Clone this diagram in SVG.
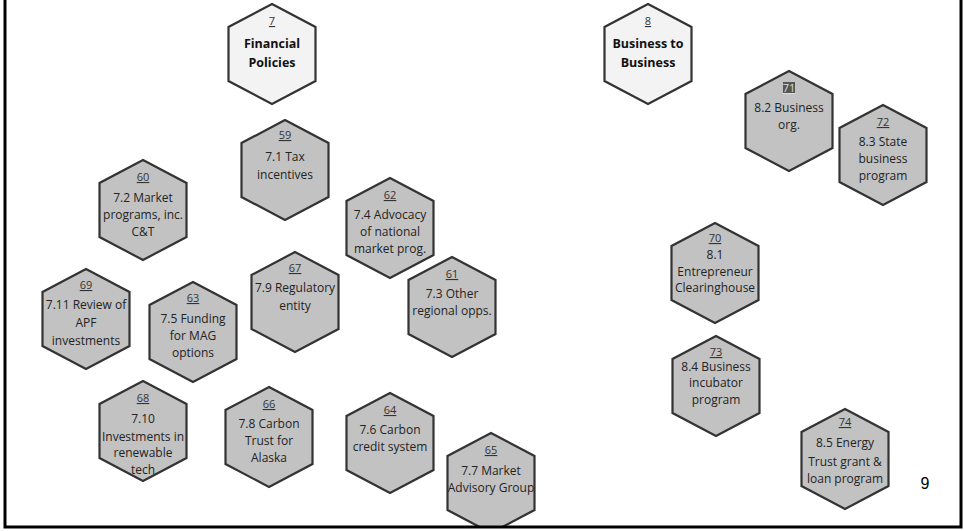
<svg xmlns="http://www.w3.org/2000/svg" width="964" height="531" viewBox="0 0 964 531">
<style>
.hx{fill:#c2c2c2;stroke:#333;stroke-width:2.2}
.hl{fill:#f3f3f3;stroke:#333;stroke-width:2.2}
.n{font-family:"Open Sans","Liberation Sans",sans-serif;font-size:11px;fill:#333;text-anchor:middle;text-decoration:underline}
.t{font-family:"Open Sans","Liberation Sans",sans-serif;font-size:12px;fill:#222;text-anchor:middle}
.b{font-family:"Open Sans","Liberation Sans",sans-serif;font-size:12.5px;font-weight:bold;fill:#111;text-anchor:middle}
</style>
<defs>
<polygon id="hex" points="0,-50 43.5,-27 43.5,27 0,50 -43.5,27 -43.5,-27"/>
</defs>
<rect width="964" height="531" fill="#fff"/>
<g id="n7" transform="translate(272,54)"><use href="#hex" class="hl"/><text class="n" y="-29">7</text><text class="b" y="-6">Financial</text><text class="b" y="13">Policies</text></g>
<g id="n8" transform="translate(648,54)"><use href="#hex" class="hl"/><text class="n" y="-29">8</text><text class="b" y="-6">Business to</text><text class="b" y="13">Business</text></g>
<g id="n71" transform="translate(789,121)"><use href="#hex" class="hx"/><rect x="-6" y="-39" width="12" height="12" fill="#555"/><text class="n" y="-29" style="fill:#ddd">71</text><text class="t" y="-9">8.2 Business</text><text class="t" y="8">org.</text></g>
<g id="n72" transform="translate(883,155)"><use href="#hex" class="hx"/><text class="n" y="-29">72</text><text class="t" y="-9">8.3 State</text><text class="t" y="8">business</text><text class="t" y="25">program</text></g>
<g id="n59" transform="translate(285,170)"><use href="#hex" class="hx"/><text class="n" y="-31">59</text><text class="t" y="-9">7.1 Tax</text><text class="t" y="9">incentives</text></g>
<g id="n60" transform="translate(143,210)"><use href="#hex" class="hx"/><text class="n" y="-29">60</text><text class="t" y="-8">7.2 Market</text><text class="t" y="9">programs, inc.</text><text class="t" y="26">C&amp;T</text></g>
<g id="n62" transform="translate(390,228)"><use href="#hex" class="hx"/><text class="n" y="-29">62</text><text class="t" y="-9">7.4 Advocacy</text><text class="t" y="8">of national</text><text class="t" y="25">market prog.</text></g>
<g id="n61" transform="translate(452,307)"><use href="#hex" class="hx"/><text class="n" y="-29">61</text><text class="t" y="-9">7.3 Other</text><text class="t" y="8">regional opps.</text></g>
<g id="n67" transform="translate(295,302)"><use href="#hex" class="hx"/><text class="n" y="-30">67</text><text class="t" y="-10">7.9 Regulatory</text><text class="t" y="8">entity</text></g>
<g id="n69" transform="translate(86,319)"><use href="#hex" class="hx"/><text class="n" y="-30">69</text><text class="t" y="-10">7.11 Review of</text><text class="t" y="8">APF</text><text class="t" y="26">investments</text></g>
<g id="n63" transform="translate(193,332)"><use href="#hex" class="hx"/><text class="n" y="-30">63</text><text class="t" y="-9">7.5 Funding</text><text class="t" y="8">for MAG</text><text class="t" y="25">options</text></g>
<g id="n70" transform="translate(715,273)"><use href="#hex" class="hx"/><text class="n" y="-31">70</text><text class="t" y="-14">8.1</text><text class="t" y="3">Entrepreneur</text><text class="t" y="19">Clearinghouse</text></g>
<g id="n73" transform="translate(716,386)"><use href="#hex" class="hx"/><text class="n" y="-30">73</text><text class="t" y="-15">8.4 Business</text><text class="t" y="1">incubator</text><text class="t" y="18">program</text></g>
<g id="n68" transform="translate(143,431)"><use href="#hex" class="hx"/><text class="n" y="-29">68</text><text class="t" y="-8">7.10</text><text class="t" y="10">Investments in</text><text class="t" y="26">renewable</text><text class="t" y="43">tech</text></g>
<g id="n66" transform="translate(269,437)"><use href="#hex" class="hx"/><text class="n" y="-29">66</text><text class="t" y="-9">7.8 Carbon</text><text class="t" y="8">Trust for</text><text class="t" y="25">Alaska</text></g>
<g id="n64" transform="translate(390,443)"><use href="#hex" class="hx"/><text class="n" y="-29">64</text><text class="t" y="-9">7.6 Carbon</text><text class="t" y="8">credit system</text></g>
<g id="n65" transform="translate(491,483)"><use href="#hex" class="hx"/><text class="n" y="-29">65</text><text class="t" y="-8">7.7 Market</text><text class="t" y="9">Advisory Group</text></g>
<g id="n74" transform="translate(845,459)"><use href="#hex" class="hx"/><text class="n" y="-33">74</text><text class="t" y="-12">8.5 Energy</text><text class="t" y="7">Trust grant &amp;</text><text class="t" y="24">loan program</text></g>
<g id="connectors"></g>
<text x="925" y="489" font-family="'Liberation Sans',Arial,sans-serif" font-size="16" text-anchor="middle" fill="#000">9</text>
<rect x="0" y="527" width="964" height="4" fill="#fff"/>
<path d="M5,0 V527 H961 V0" fill="none" stroke="#000" stroke-width="3"/>
</svg>
